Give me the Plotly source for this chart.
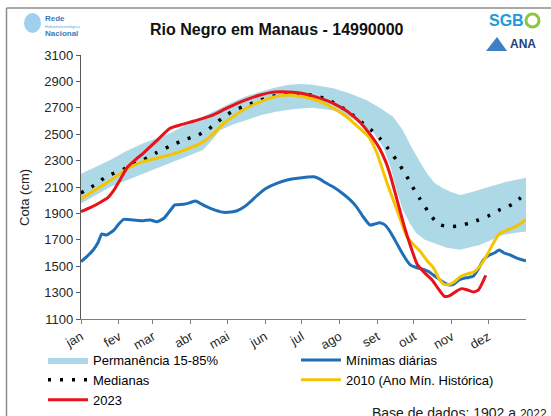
import plotly.graph_objects as go

# ---------------- data ----------------
MONTHS = ["jan", "fev", "mar", "abr", "mai", "jun", "jul", "ago", "set", "out", "nov", "dez"]
MONTH_START_DAY = [0, 31, 59, 90, 120, 151, 181, 212, 243, 273, 304, 334]
Y_TICKS = [1100, 1300, 1500, 1700, 1900, 2100, 2300, 2500, 2700, 2900, 3100]

BAND_UPPER_DAYS = [0, 12, 24, 37, 51, 62, 73, 86, 100, 112, 125, 136, 147, 158, 169, 180, 190,
                   207, 220, 234, 245, 256, 264, 270, 278, 284, 290, 297, 304, 311, 320, 330,
                   340, 349, 357, 365]
BAND_UPPER = [2200, 2250, 2305, 2370, 2431, 2470, 2507, 2570, 2633, 2690, 2746, 2790, 2822, 2850,
              2873, 2880, 2875, 2848, 2810, 2759, 2700, 2633, 2530, 2420, 2290, 2200, 2130, 2090,
              2060, 2040, 2060, 2090, 2115, 2140, 2155, 2170]

BAND_LOWER_DAYS = [0, 12, 24, 37, 51, 62, 73, 86, 100, 107, 114, 125, 136, 148, 160, 175, 190,
                   207, 220, 229, 240, 248, 254, 259, 264, 270, 275, 282, 289, 300, 311, 320,
                   327, 336, 346, 355, 365]
BAND_LOWER = [1975, 2040, 2100, 2150, 2204, 2240, 2280, 2330, 2380, 2450, 2530, 2575, 2608, 2645,
              2670, 2690, 2700, 2680, 2630, 2583, 2510, 2400, 2250, 2070, 1926, 1820, 1749, 1700,
              1673, 1640, 1625, 1645, 1661, 1700, 1737, 1752, 1762]

MEDIAN_DAYS = [0, 12, 21, 35, 51, 62, 73, 84, 95, 103, 109, 117, 125, 136, 147, 155, 165, 175,
               185, 191, 199, 207, 215, 223, 231, 238, 245, 252, 259, 266, 272, 278, 285, 290,
               295, 302, 310, 318, 326, 334, 343, 350, 356, 365]
MEDIAN = [2055, 2120, 2180, 2235, 2305, 2360, 2410, 2455, 2490, 2527, 2570, 2630, 2678, 2720,
          2758, 2783, 2800, 2805, 2800, 2795, 2772, 2740, 2696, 2645, 2585, 2532, 2470, 2390,
          2300, 2200, 2100, 2010, 1910, 1850, 1812, 1800, 1805, 1825, 1850, 1880, 1925, 1950,
          1985, 2050]

MIN_DAYS = [0, 5, 10, 14, 17, 21, 27, 31, 35, 43, 51, 57, 62, 68, 73, 77, 84, 89, 94, 98, 103,
            110, 117, 123, 128, 134, 139, 145, 152, 160, 169, 178, 186, 191, 196, 201, 207, 214,
            221, 226, 231, 237, 241, 245, 249, 253, 258, 262, 266, 270, 275, 281, 285, 289, 294,
            298, 302, 306, 310, 314, 318, 322, 326, 330, 335, 339, 343, 347, 352, 358, 365]
MIN_DAILY = [1534, 1575, 1623, 1680, 1744, 1736, 1774, 1820, 1855, 1850, 1845, 1850, 1837, 1863,
             1920, 1964, 1969, 1980, 1994, 1975, 1951, 1925, 1908, 1910, 1920, 1950, 1989, 2040,
             2090, 2125, 2153, 2166, 2175, 2178, 2160, 2130, 2100, 2055, 2001, 1950, 1880, 1812,
             1820, 1830, 1815, 1770, 1690, 1623, 1560, 1510, 1490, 1475, 1460, 1433, 1400, 1375,
             1358, 1365, 1395, 1408, 1415, 1426, 1480, 1547, 1585, 1600, 1623, 1600, 1585, 1560,
             1540]

Y2010_DAYS = [0, 12, 24, 40, 51, 62, 73, 84, 92, 100, 106, 112, 117, 125, 133, 142, 152, 160,
              169, 178, 188, 198, 207, 218, 229, 236, 243, 251, 259, 264, 267, 272, 278, 284,
              289, 294, 298, 302, 306, 311, 316, 322, 328, 333, 338, 343, 349, 355, 360, 365]
Y2010 = [2010, 2080, 2150, 2250, 2292, 2318, 2343, 2375, 2405, 2440, 2481, 2535, 2583, 2635,
         2683, 2725, 2764, 2785, 2797, 2790, 2772, 2740, 2696, 2630, 2540, 2480, 2350, 2130,
         1930, 1800, 1730, 1670, 1615, 1540, 1490, 1400, 1362, 1362, 1380, 1420, 1440, 1455,
         1510, 1585, 1670, 1745, 1770, 1795, 1820, 1855]

Y2023_DAYS = [0, 8, 16, 22, 27, 33, 38, 45, 51, 62, 73, 82, 92, 100, 109, 118, 128, 138, 147,
              155, 163, 174, 182, 190, 200, 207, 218, 229, 237, 245, 250, 254, 259, 264, 270,
              276, 283, 288, 293, 298, 302, 307, 312, 317, 322, 326, 329, 332]
Y2023 = [1913, 1945, 1985, 2020, 2077, 2170, 2250, 2310, 2355, 2450, 2545, 2572, 2598, 2620,
         2648, 2690, 2734, 2770, 2797, 2815, 2822, 2818, 2808, 2790, 2760, 2734, 2675, 2590,
         2500, 2390, 2290, 2180, 2010, 1840, 1660, 1510, 1440, 1395, 1330, 1272, 1275, 1305,
         1330, 1320, 1305, 1320, 1370, 1430]

# ---------------- figure ----------------
FONT = "Liberation Sans, Arial, sans-serif"
W, H = 551, 416
ML, MR, MT, MB = 81, 25, 55, 97
PW, PH = W - ML - MR, H - MT - MB


def px(x):
    return (x - ML) / PW


def py(y):
    return (H - MB - y) / PH


fig = go.Figure()

fig.add_trace(go.Scatter(
    x=BAND_UPPER_DAYS + BAND_LOWER_DAYS[::-1],
    y=BAND_UPPER + BAND_LOWER[::-1],
    fill="toself", fillcolor="#add8e6", line=dict(width=0, color="#add8e6"),
    mode="lines", name="Permanência 15-85%", hoverinfo="skip"))

fig.add_trace(go.Scatter(
    x=MIN_DAYS, y=MIN_DAILY, mode="lines", name="Mínimas diárias",
    line=dict(color="#1f6fb8", width=3, shape="spline", smoothing=0.5)))

fig.add_trace(go.Scatter(
    x=MEDIAN_DAYS, y=MEDIAN, mode="lines", name="Medianas",
    line=dict(color="#000000", width=3.5, dash="3px,9px", shape="spline", smoothing=0.5)))

fig.add_trace(go.Scatter(
    x=Y2010_DAYS, y=Y2010, mode="lines", name="2010 (Ano Mín. Histórica)",
    line=dict(color="#f5c400", width=3, shape="spline", smoothing=0.5)))

fig.add_trace(go.Scatter(
    x=Y2023_DAYS, y=Y2023, mode="lines", name="2023",
    line=dict(color="#e8121b", width=3, shape="spline", smoothing=0.5)))

fig.update_layout(
    width=W, height=H,
    margin=dict(l=ML, r=MR, t=MT, b=MB, pad=0, autoexpand=False),
    paper_bgcolor="white", plot_bgcolor="white",
    font=dict(family=FONT, size=13, color="#1a1a1a"),
    showlegend=True,
    legend=dict(orientation="h", x=px(43), xanchor="left", y=py(345), yanchor="top",
                font=dict(family=FONT, size=13, color="#000000"),
                itemwidth=40, entrywidth=198, tracegroupgap=0,
                bgcolor="rgba(0,0,0,0)"),
    xaxis=dict(range=[0, 365], tickmode="array", tickvals=MONTH_START_DAY, ticktext=MONTHS,
               tickangle=-30, ticks="outside", ticklen=4, tickcolor="#7f7f7f",
               showline=True, linecolor="#7f7f7f", linewidth=1.3, showgrid=False,
               zeroline=False, tickfont=dict(family=FONT, size=13, color="#262626")),
    yaxis=dict(range=[1100, 3100], tickmode="array", tickvals=Y_TICKS,
               ticks="outside", ticklen=4, tickcolor="#595959",
               showline=True, linecolor="#595959", linewidth=1.3, showgrid=False,
               zeroline=False, tickfont=dict(family=FONT, size=13, color="#262626")),
)

annotations = [
    dict(text="<b>Rio Negro em Manaus - 14990000</b>", x=px(277), y=py(30),
         font=dict(family=FONT, size=16, color="#111111")),
    dict(text="Cota (cm)", x=px(24), y=py(198), textangle=-90,
         font=dict(family=FONT, size=13, color="#262626")),
    dict(text="Base de dados: 1902 a <span style='font-size:12px'>2022</span>",
         x=px(549), y=py(413), xanchor="right",
         font=dict(family=FONT, size=14, color="#1a1a1a")),
    # logos (as text)
    dict(text="<b>Rede</b>", x=px(43), y=py(18), xanchor="left",
         font=dict(family=FONT, size=8, color="#3a7dc0")),
    dict(text="Hidrometeorológica", x=px(43), y=py(26.5), xanchor="left",
         font=dict(family=FONT, size=4, color="#5fa8dc")),
    dict(text="<b>Nacional</b>", x=px(43), y=py(34), xanchor="left",
         font=dict(family=FONT, size=8, color="#3a7dc0")),
    dict(text="<b>SGB</b>", x=px(487), y=py(20), xanchor="left",
         font=dict(family=FONT, size=16, color="#1f9ad8")),
    dict(text="<b>ANA</b>", x=px(508), y=py(44), xanchor="left",
         font=dict(family=FONT, size=12, color="#1c3f7c")),
]
for a in annotations:
    a.setdefault("xref", "paper")
    a.setdefault("yref", "paper")
    a.setdefault("xanchor", "center")
    a.setdefault("yanchor", "middle")
    a.setdefault("showarrow", False)
    fig.add_annotation(**a)

shapes = [
    # frame border (top and left)
    dict(type="line", x0=px(6.5), x1=px(560), y0=py(8), y1=py(8),
         line=dict(color="#8c8c8c", width=1.5)),
    dict(type="line", x0=px(6.5), x1=px(6.5), y0=py(8), y1=py(430),
         line=dict(color="#8c8c8c", width=1.5)),
    # Rede logo icon
    dict(type="circle", x0=px(24), x1=px(41), y0=py(13), y1=py(33),
         fillcolor="#9fd0ee", line=dict(width=0)),
    # SGB 'O' mark
    dict(type="circle", x0=px(526), x1=px(539), y0=py(14), y1=py(27),
         line=dict(color="#8dc63f", width=3)),
    # ANA wave icon
    dict(type="path",
         path=f"M {px(486)} {py(51)} L {px(497)} {py(37)} L {px(507)} {py(51)} Z",
         fillcolor="#3f7fc4", line=dict(width=0)),
]
for s in shapes:
    s.setdefault("xref", "paper")
    s.setdefault("yref", "paper")
    fig.add_shape(**s)

fig.write_html("out.html",
               config={"displayModeBar": False},
               post_script="document.body.style.margin='0px';"
                           "document.body.style.overflow='hidden';")
